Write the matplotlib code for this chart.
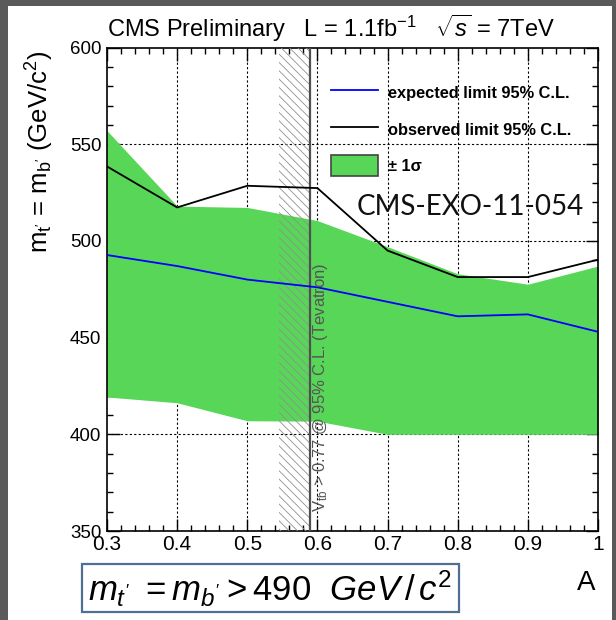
import matplotlib
matplotlib.use("Agg")
import matplotlib.pyplot as plt
from matplotlib.lines import Line2D
from matplotlib.patches import Patch, Rectangle

plt.rcParams['font.family'] = ['Liberation Sans', 'DejaVu Sans']
plt.rcParams['mathtext.fontset'] = 'custom'
plt.rcParams['mathtext.rm'] = 'Liberation Sans'
plt.rcParams['mathtext.it'] = 'Liberation Sans:italic'
plt.rcParams['mathtext.bf'] = 'Liberation Sans:bold'
plt.rcParams['hatch.linewidth'] = 0.6

# ---- data ----
A_values = [0.3, 0.4, 0.5, 0.6, 0.7, 0.8, 0.9, 1.0]
expected = [492.7, 487.0, 480.0, 476.0, 468.5, 461.0, 462.0, 453.0]
observed = [538.5, 517.3, 528.5, 527.3, 495.0, 481.3, 481.3, 490.3]
band_up = [557.0, 518.0, 517.3, 510.5, 497.0, 483.0, 477.6, 487.0]
band_lo = [419.3, 416.3, 407.0, 406.8, 400.0, 400.0, 400.0, 400.0]
tevatron_band = [0.545, 0.589]
xtick_vals = [0.3, 0.4, 0.5, 0.6, 0.7, 0.8, 0.9, 1.0]
xtick_labels = ['0.3', '0.4', '0.5', '0.6', '0.7', '0.8', '0.9', '1']
ytick_vals = [350, 400, 450, 500, 550, 600]

W, H = 616, 620
fig = plt.figure(figsize=(W / 100, H / 100), dpi=100)
fig.patch.set_facecolor('#5a5a5a')
fig.patches.append(Rectangle((8 / W, 0), (612 - 8) / W, (H - 6) / H,
                             transform=fig.transFigure, facecolor='white',
                             edgecolor='none', zorder=-10))

ax = fig.add_axes([107 / W, (H - 531) / H, (598 - 107) / W, (531 - 47.5) / H])
ax.set_xlim(0.3, 1.0)
ax.set_ylim(350, 600)

green = '#58d658'
ax.fill_between(A_values, band_lo, band_up, color=green, lw=0, zorder=2)
ax.axvspan(tevatron_band[0], tevatron_band[1], facecolor='none',
           edgecolor='#909090', hatch='\\\\\\\\', lw=0, zorder=3)
ax.axvline(tevatron_band[1], color='#505050', lw=1.6, zorder=4)
ax.plot(A_values, expected, color='#0000ff', lw=1.3, zorder=5)
ax.plot(A_values, observed, color='black', lw=1.3, zorder=5)

ax.text(0.6045, 360, r"V$_{\rm tb}$ > 0.77 @ 95% C.L. (Tevatron)", rotation=90,
        ha='center', va='bottom', color='#555555', fontsize=12, zorder=6)

# grid
for xv in xtick_vals[1:-1]:
    ax.axvline(xv, color='black', lw=0.8, ls=(0, (2, 2)), zorder=1)
for yv in ytick_vals[1:-1]:
    ax.axhline(yv, color='black', lw=0.8, ls=(0, (2, 2)), zorder=1)

ax.set_xticks(xtick_vals)
ax.set_xticklabels(xtick_labels)
ax.set_yticks(ytick_vals)
ax.set_xticks([0.3 + 0.02 * i for i in range(36)], minor=True)
ax.set_yticks(list(range(350, 601, 10)), minor=True)
ax.tick_params(which='both', direction='in', top=True, right=True, width=1.0)
ax.tick_params(which='major', length=9)
ax.tick_params(which='minor', length=4.5)
ax.tick_params(axis='x', labelsize=15, pad=3)
ax.tick_params(axis='y', labelsize=13.5, pad=4)
for s in ax.spines.values():
    s.set_linewidth(1.2)

# legend
handles = [Line2D([], [], color='#0000ff', lw=1.3),
           Line2D([], [], color='black', lw=1.3),
           Patch(facecolor=green, edgecolor='#444444', lw=1.2)]
labels = ['expected limit 95% C.L.', 'observed limit 95% C.L.', '± 1σ']
leg = ax.legend(handles, labels, loc='upper left',
                bbox_to_anchor=(331 / W, 1 - 82 / H), bbox_transform=fig.transFigure,
                frameon=False, prop={'weight': 'bold', 'size': 11.8},
                handlelength=2.85, handleheight=1.6, labelspacing=0.95,
                handletextpad=0.6, borderpad=0, borderaxespad=0)

fig.text(470 / W, 1 - 207 / H, 'CMS-EXO-11-054', fontsize=20, family='Lato',
         ha='center', va='center', color='#111111')

fig.text(107 / W, 1 - 37 / H,
         r'CMS Preliminary   L = 1.1fb$^{-1}$   $\sqrt{s}$ = 7TeV',
         fontsize=17, ha='left', va='baseline')

fig.text(40 / W, 1 - 152 / H, r"m$_{\rm t'}$ = m$_{\rm b'}$ (GeV/c$^{2}$)",
         rotation=90, fontsize=18.5, ha='center', va='center')

fig.text(586 / W, 1 - 583 / H, 'A', fontsize=20, ha='center', va='center')

fig.patches.append(Rectangle((82 / W, 1 - 612 / H), (459 - 82) / W, (612 - 564) / H,
                             transform=fig.transFigure, facecolor='white',
                             edgecolor='#4f6e94', lw=1.6, zorder=5))
fig.text(270 / W, 1 - 589 / H, r"$m_{t'}\ = m_{b'} > 490\ \ GeV\,/\,c^{2}$",
         fontsize=25, ha='center', va='center', zorder=6)

fig.savefig('out.png', dpi=100, facecolor=fig.get_facecolor())
